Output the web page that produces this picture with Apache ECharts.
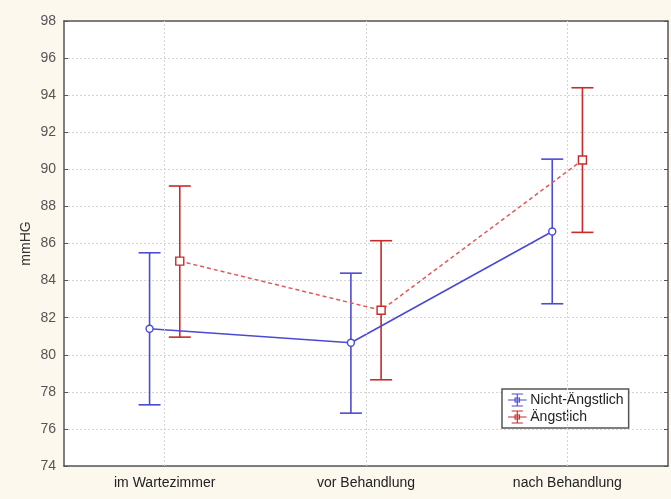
<!DOCTYPE html>
<html>
<head>
<meta charset="utf-8">
<script src="https://cdn.jsdelivr.net/npm/echarts@6/dist/echarts.min.js"></script>
<style>
  html, body { margin: 0; padding: 0; background: #ffffff; }
  #chart { width: 671px; height: 499px; }
</style>
</head>
<body>
<div id="chart"></div>
<script>
// Blood pressure (mmHG) by time point, means with error bars
const categories = ['im Wartezimmer', 'vor Behandlung', 'nach Behandlung'];
const yTicks = { min: 74, max: 98, step: 2 };

const nichtMean = [81.4, 80.65, 86.65];
const nichtLow  = [77.3, 76.85, 82.75];
const nichtHigh = [85.5, 84.4, 90.55];

const aengMean = [85.05, 82.4, 90.5];
const aengLow  = [80.95, 78.65, 86.6];
const aengHigh = [89.1, 86.15, 94.4];

const BLUE = '#4b4bd2';
const RED = '#c92a2a';
const RED_LINE = '#e05a5a';
const GRID = '#d4d4d4';
const SHIFT = 0.075; // horizontal offset of each group from the category centre

function points(means, shift) {
  return means.map((v, i) => [i + shift, v]);
}
function bars(low, high, shift) {
  return low.map((lo, i) => [i + shift, lo, high[i]]);
}

function errorBar(color) {
  return function (params, api) {
    const x = api.value(0);
    const lo = api.coord([x, api.value(1)]);
    const hi = api.coord([x, api.value(2)]);
    const half = 11;
    const style = { stroke: color, lineWidth: 1.6 };
    return {
      type: 'group',
      children: [
        { type: 'line', shape: { x1: hi[0], y1: hi[1], x2: lo[0], y2: lo[1] }, style },
        { type: 'line', shape: { x1: hi[0] - half, y1: hi[1], x2: hi[0] + half, y2: hi[1] }, style },
        { type: 'line', shape: { x1: lo[0] - half, y1: lo[1], x2: lo[0] + half, y2: lo[1] }, style }
      ]
    };
  };
}

// legend glyph: error bar with a marker on a horizontal line
const ICON = 'path://M4 0H16V1.2H4Z M4 12.8H16V14H4Z M9.4 0H10.6V14H9.4Z M0 6.4H20V7.6H0Z ' +
             'M7 4.2H13V9.8H7Z M8.2 5.4V8.6H11.8V5.4Z';

const chart = echarts.init(document.getElementById('chart'), null, { renderer: 'canvas' });

const labelFont = { fontFamily: 'Liberation Sans, Arial, sans-serif', fontSize: 14 };

chart.setOption({
  backgroundColor: '#fcf8ee',
  animation: false,
  grid: {
    left: 64, right: 3, top: 21, bottom: 33,
    show: true, backgroundColor: '#ffffff', borderWidth: 0
  },
  legend: {
    left: 502, top: 389,
    orient: 'vertical',
    itemWidth: 20, itemHeight: 13, itemGap: 3,
    padding: [4, 5, 4, 6],
    backgroundColor: '#ffffff',
    borderColor: '#555555', borderWidth: 1.5, borderRadius: 0,
    textStyle: Object.assign({ color: '#222222', padding: [0, 0, 0, -2] }, labelFont),
    data: [
      { name: 'Nicht-Ängstlich', icon: ICON },
      { name: 'Ängstlich', icon: ICON }
    ]
  },
  xAxis: [
    {
      type: 'category', data: categories, position: 'bottom',
      boundaryGap: true,
      axisLine: { lineStyle: { color: '#555555', width: 1.5 } },
      axisTick: { alignWithLabel: true, inside: true, length: 4, lineStyle: { color: '#555555' } },
      axisLabel: Object.assign({ color: '#222222', margin: 10 }, labelFont),
      splitLine: { show: false }
    },
    {
      type: 'value', min: -0.5, max: 2.5, show: false
    },
    {
      type: 'category', data: categories, position: 'top',
      boundaryGap: true,
      axisLine: { lineStyle: { color: '#555555', width: 1.5 } },
      axisTick: { alignWithLabel: true, inside: true, length: 4, lineStyle: { color: '#555555' } },
      axisLabel: { show: false },
      splitLine: { show: false }
    }
  ],
  yAxis: [
    {
      type: 'value', min: yTicks.min, max: yTicks.max, interval: yTicks.step,
      position: 'left',
      name: 'mmHG', nameLocation: 'middle', nameGap: 31, nameMoveOverlap: false,
      nameTextStyle: Object.assign({ color: '#333333' }, labelFont),
      axisLine: { show: true, onZero: false, lineStyle: { color: '#555555', width: 1.5 } },
      axisTick: { show: true, inside: true, length: 4, lineStyle: { color: '#555555' } },
      axisLabel: Object.assign({ color: '#555555', margin: 8 }, labelFont),
      splitLine: { show: true, lineStyle: { color: GRID, type: [2, 2] } }
    },
    {
      type: 'value', min: yTicks.min, max: yTicks.max, interval: yTicks.step,
      position: 'right',
      axisLine: { show: true, onZero: false, lineStyle: { color: '#555555', width: 1.5 } },
      axisTick: { show: true, inside: true, length: 4, lineStyle: { color: '#555555' } },
      axisLabel: { show: false },
      splitLine: { show: false }
    }
  ],
  series: [
    {
      name: 'Nicht-Ängstlich', type: 'custom', xAxisIndex: 1, yAxisIndex: 0,
      renderItem: errorBar(BLUE), data: bars(nichtLow, nichtHigh, -SHIFT),
      itemStyle: { color: BLUE }, z: 2,
      // vertical grid lines through the category centres
      markLine: {
        silent: true, symbol: 'none', label: { show: false },
        lineStyle: { color: GRID, type: [2, 2], width: 1 },
        data: categories.map((c, i) => ({ xAxis: i }))
      }
    },
    {
      name: 'Ängstlich', type: 'custom', xAxisIndex: 1, yAxisIndex: 0,
      renderItem: errorBar(RED), data: bars(aengLow, aengHigh, SHIFT),
      itemStyle: { color: RED }, z: 2
    },
    {
      name: 'Ängstlich', type: 'line', xAxisIndex: 1, yAxisIndex: 0,
      data: points(aengMean, SHIFT),
      lineStyle: { color: RED_LINE, width: 1.5, type: [4, 3] },
      symbol: 'rect', symbolSize: 8,
      itemStyle: { color: '#ffffff', borderColor: RED, borderWidth: 1.4 },
      z: 3
    },
    {
      name: 'Nicht-Ängstlich', type: 'line', xAxisIndex: 1, yAxisIndex: 0,
      data: points(nichtMean, -SHIFT),
      lineStyle: { color: BLUE, width: 1.6 },
      symbol: 'circle', symbolSize: 7,
      itemStyle: { color: '#ffffff', borderColor: BLUE, borderWidth: 1.4 },
      z: 4
    }
  ]
});
</script>
</body>
</html>
